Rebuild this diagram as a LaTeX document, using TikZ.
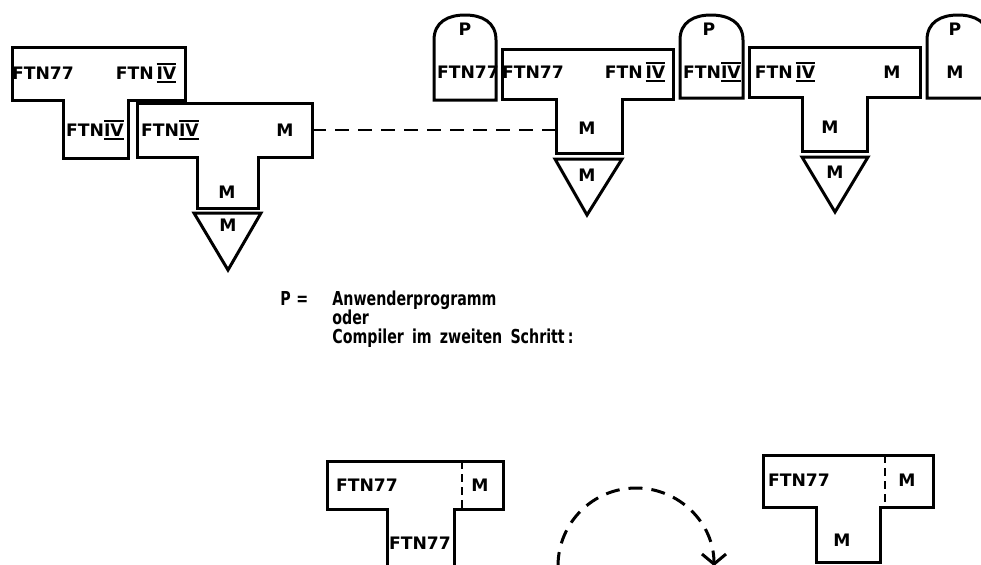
\documentclass[tikz,border=0pt]{standalone}
\usepackage{fontspec}
\setmainfont{DejaVu Sans}
\newfontfamily\captfont{DejaVu Sans}[FakeStretch=0.74]
\usetikzlibrary{arrows.meta}
% roman four with bars above and below
\newcommand{\rIV}{\begingroup\setbox0\hbox{IV}%
  \rlap{\rule[-1.9pt]{\wd0}{0.8pt}}%
  \rlap{\rule[\dimexpr\ht0+1pt\relax]{\wd0}{0.8pt}}\box0\endgroup}
\tikzset{
  tbox/.style={line width=1.5pt, line join=miter},
  lbl/.style={font=\fontsize{8.6}{10}\selectfont\bfseries, inner sep=0pt},
  captxt/.style={font=\fontsize{9.6}{11}\captfont\bfseries, inner sep=0pt, anchor=base west},
  link/.style={line width=1.3pt, dash pattern=on 7pt off 4.5pt},
  sep/.style={line width=1.4pt, dash pattern=on 4pt off 2.5pt},
}
\begin{document}
\begin{tikzpicture}[x=0.5pt,y=-0.5pt]
  \useasboundingbox (0,0) rectangle (981,564);
  \clip (0,0) rectangle (981,564);
  % upper row, left
  \draw[tbox] (12,47) -- (185,47) -- (185,100) -- (128,100) -- (128,158) -- (63,158) -- (63,100) -- (12,100) -- cycle;
  \node[lbl] (t1l) at (43,73) {FTN77};
  \node[lbl] (t1r) at (146,73) {FTN\,\rIV};
  \node[lbl] (t1s) at (95,130) {FTN\rIV};
  \draw[tbox] (137,103) -- (312,103) -- (312,157) -- (258,157) -- (258,208) -- (197,208) -- (197,157) -- (137,157) -- cycle;
  \draw[tbox] (194,213) -- (261,213) -- (228,270) -- cycle;
  \node[lbl] (t2l) at (170,130) {FTN\rIV};
  \node[lbl] (t2r) at (285,130) {M};
  \node[lbl] (t2s) at (227,192) {M};
  \node[lbl] (t2m) at (228,225) {M};
  % upper row, right
  \draw[tbox] (434,100) -- (434,40) .. controls (434,22) and (448,15) .. (465,15) .. controls (482,15) and (496,22) .. (496,40) -- (496,100) -- cycle;
  \node[lbl] (p1) at (465,29) {P};
  \node[lbl] (p1b) at (468,72) {FTN77};
  \draw[tbox] (502,49) -- (673,49) -- (673,99) -- (622,99) -- (622,153) -- (556,153) -- (556,99) -- (502,99) -- cycle;
  \draw[tbox] (555,159) -- (622,159) -- (587,215) -- cycle;
  \node[lbl] (t3l) at (533,72) {FTN77};
  \node[lbl] (t3r) at (635,72) {FTN\,\rIV};
  \node[lbl] (t3s) at (587,128) {M};
  \node[lbl] (t3m) at (587,175) {M};
  \draw[tbox] (680,98) -- (680,40) .. controls (680,22) and (694,15) .. (711,15) .. controls (728,15) and (743,22) .. (743,40) -- (743,98) -- cycle;
  \node[lbl] (p2) at (709,29) {P};
  \node[lbl] (p2b) at (712,72) {FTN\rIV};
  \draw[tbox] (749,47) -- (920,47) -- (920,97) -- (867,97) -- (867,151) -- (802,151) -- (802,97) -- (749,97) -- cycle;
  \draw[tbox] (802,157) -- (868,157) -- (835,212) -- cycle;
  \node[lbl] (t4l) at (785,72) {FTN\,\rIV};
  \node[lbl] (t4r) at (892,72) {M};
  \node[lbl] (t4s) at (830,127) {M};
  \node[lbl] (t4m) at (835,172) {M};
  \draw[tbox] (927,98) -- (927,40) .. controls (927,22) and (941,15) .. (958,15) .. controls (975,15) and (989,22) .. (989,40) -- (989,98) -- cycle;
  \node[lbl] (p3) at (955,29) {P};
  \node[lbl] (p3b) at (955,72) {M};
  % dashed link
  \coordinate (ls) at (312,130);
  \coordinate (le) at (556,130);
  \draw[link] (ls) -- (le);
  % caption
  \node[captxt] (pp) at (280,305) {P};
  \node[captxt] (pe) at (296,305) {=};
  \node[captxt] (c1) at (332,305) {Anwenderprogramm};
  \node[captxt] (c2) at (332,324) {oder};
  \node[captxt] (c3) at (332,343) {Compiler\, im\, zweiten\, Schritt\,:};
  % lower row
  \draw[tbox] (327,461) -- (503,461) -- (503,509) -- (454,509) -- (454,566) -- (387,566) -- (387,509) -- (327,509) -- cycle;
  \draw[sep] (462,461) -- (462,509);
  \node[lbl] (t5l) at (367,485) {FTN77};
  \node[lbl] (t5r) at (480,485) {M};
  \node[lbl] (t5s) at (420,543) {FTN77};
  \coordinate (as) at (558,566);
  \draw[link,line width=1.5pt,-{Straight Barb[length=5pt,width=12pt]}] (as) arc[start angle=180,end angle=360,radius=78];
  \draw[tbox] (763,455) -- (933,455) -- (933,507) -- (880,507) -- (880,562) -- (816,562) -- (816,507) -- (763,507) -- cycle;
  \draw[sep] (885,455) -- (885,507);
  \node[lbl] (t6l) at (799,480) {FTN77};
  \node[lbl] (t6r) at (907,480) {M};
  \node[lbl] (t6s) at (842,540) {M};
\end{tikzpicture}
\end{document}
